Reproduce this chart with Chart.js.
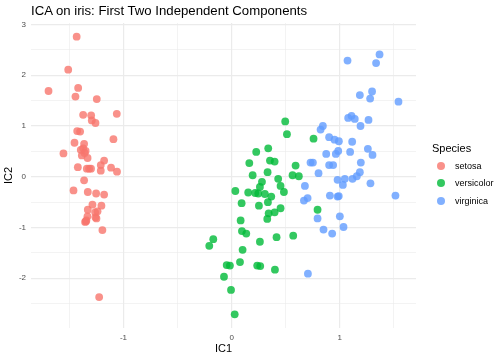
<!DOCTYPE html>
<html lang="en">
<head>
  <meta charset="UTF-8">
  <title>ICA on iris</title>
  <script src="https://cdn.jsdelivr.net/npm/chart.js"></script>
  <style>
    body {
      margin: 0;
      background: #fff;
      font-family: "Liberation Sans", Arial, sans-serif;
    }
    #wrap { position: relative; width: 504px; height: 360px; }
    #title {
      position: absolute; left: 31px; top: 4px;
      font-size: 13.2px; line-height: 13px; color: #000; white-space: nowrap;
    }
    #legendTitle {
      position: absolute; left: 432px; top: 143px;
      font-size: 11px; line-height: 11px; color: #000;
    }
    .item {
      position: absolute; left: 437px; height: 17px;
      display: flex; align-items: center;
      font-size: 9px; color: #000;
    }
    .dot { width: 8px; height: 8px; border-radius: 50%; margin-right: 10px; }
  </style>
</head>
<body>
  <div id="wrap">
    <canvas id="icaChart" width="504" height="360"></canvas>
    <div id="title">ICA on iris: First Two Independent Components</div>
    <div id="legendTitle">Species</div>
    <div id="legend"></div>
  </div>

  <script>
    const species = ['setosa', 'versicolor', 'virginica'];
    const colours = ['rgba(248,118,109,0.8)', 'rgba(0,186,56,0.8)', 'rgba(97,156,255,0.8)'];

    const setosaX = [-1.433, -1.511, -1.693, -1.419, -1.444, -1.247, -1.373, -1.299, -1.062, -1.293,
      -1.259, -1.428, -1.401, -1.093, -1.453, -1.364, -1.555, -1.373, -1.350, -1.385,
      -1.332, -1.179, -1.210, -1.210, -1.422, -1.339, -1.318, -1.115, -1.060, -1.364,
      -1.462, -1.330, -1.253, -1.179, -1.287, -1.204, -1.330, -1.262, -1.333, -1.259,
      -1.355, -1.343, -1.250, -1.195, -1.225, -1.360, -1.395, -1.240, -1.300, -1.348];
    const setosaY = [2.76, 2.11, 1.69, 1.75, 1.58, 1.53, 1.22, 1.21, 1.24, 1.11,
      1.06, 0.90, 0.89, 0.74, 0.67, 0.65, 0.46, 0.56, 0.51, 0.42,
      0.37, 0.32, 0.23, 0.12, 0.19, 0.16, 0.16, 0.18, 0.10, -0.07,
      -0.27, -0.30, -0.33, -0.35, -0.55, -0.57, -0.65, -0.70, -0.78, -0.80,
      -0.89, -0.86, -0.82, -1.05, -2.37, 0.47, 0.53, -0.68, 0.16, -0.88];

    const versicolorX = [0.495, 0.511, 0.757, 0.338, 0.227, 0.163, 0.354, 0.397, 0.591, 0.194,
      0.332, 0.563, 0.621, 0.430, 0.280, 0.452, 0.261, 0.034, 0.153, 0.218,
      0.246, 0.307, 0.483, 0.366, 0.335, 0.092, 0.252, 0.452, 0.342, 0.397,
      0.329, 0.083, 0.794, 0.095, 0.135, 0.415, 0.569, 0.261, -0.170, -0.207,
      0.101, 0.077, -0.046, -0.016, 0.236, 0.264, 0.400, -0.071, -0.006, 0.028];
    const versicolorY = [1.09, 0.84, 0.75, 0.56, 0.49, 0.27, 0.32, 0.30, 0.22, 0.03,
      0.09, 0.03, 0.01, -0.04, -0.10, -0.18, -0.20, -0.28, -0.31, -0.32,
      -0.33, -0.34, -0.30, -0.39, -0.50, -0.52, -0.57, -0.62, -0.72, -0.70,
      -0.83, -0.86, -0.65, -1.07, -1.12, -1.19, -1.16, -1.28, -1.23, -1.36,
      -1.44, -1.68, -1.74, -1.75, -1.75, -1.76, -1.83, -1.97, -2.23, -2.71];

    const virginicaX = [1.367, 1.071, 1.335, 1.298, 1.185, 1.280, 1.542, 1.108, 1.077, 1.138,
      1.265, 1.191, 0.843, 0.822, 0.901, 0.951, 0.991, 1.114, 1.259, 1.302,
      0.874, 0.963, 0.985, 1.095, 1.194, 0.729, 0.751, 0.901, 0.938, 0.803,
      1.185, 1.157, 1.117, 1.046, 0.979, 1.028, 1.283, 0.677, 1.514, 0.908,
      0.979, 0.990, 0.702, 0.668, 0.794, 1.000, 1.034, 0.849, 0.929, 0.705];
    const virginicaY = [2.41, 2.29, 2.24, 1.68, 1.61, 1.54, 1.48, 1.20, 1.16, 1.14,
      1.12, 1.00, 1.00, 0.93, 0.78, 0.73, 0.70, 0.69, 0.55, 0.43,
      0.45, 0.45, 0.51, 0.49, 0.28, 0.28, 0.28, 0.23, 0.23, 0.07,
      0.09, 0.01, -0.04, -0.04, -0.06, -0.16, -0.13, -0.18, -0.37, -0.37,
      -0.39, -0.38, -0.42, -0.47, -0.82, -0.78, -0.99, -1.04, -1.12, -1.91];

    const xTicks = [-1.5, -1, -0.5, 0, 0.5, 1, 1.5];
    const yTicks = [-2.5, -2, -1.5, -1, -0.5, 0, 0.5, 1, 1.5, 2, 2.5, 3];

    const xs = [setosaX, versicolorX, virginicaX];
    const ys = [setosaY, versicolorY, virginicaY];

    const isMajor = v => Number.isInteger(v);
    const gridColour = '#ebebeb';

    const datasets = species.map((s, i) => ({
      label: s,
      data: xs[i].map((x, j) => ({ x: x, y: ys[i][j] })),
      backgroundColor: colours[i],
      pointRadius: 3.9,
      pointHoverRadius: 3.9,
      pointBorderWidth: 0
    }));

    const axis = (ticks, title) => ({
      type: 'linear',
      afterBuildTicks: s => { s.ticks = ticks.map(v => ({ value: v })); },
      border: { display: false },
      grid: {
        drawTicks: false,
        color: gridColour,
        lineWidth: ctx => (ctx.tick && isMajor(ctx.tick.value)) ? 1.2 : 0.6
      },
      ticks: {
        color: '#4d4d4d',
        font: { size: 8 },
        autoSkip: false,
        maxRotation: 0,
        padding: 5,
        callback: v => isMajor(v) ? String(v) : ''
      },
      title: { display: true, text: title, color: '#000', font: { size: 11 } }
    });

    const xAxis = axis(xTicks, 'IC1');
    xAxis.min = -1.855;
    xAxis.max = 1.704;
    xAxis.afterFit = s => { s.height = 32; };
    xAxis.title.padding = { top: 0, bottom: 4 };

    const yAxis = axis(yTicks, 'IC2');
    yAxis.min = -2.98;
    yAxis.max = 3.03;
    yAxis.afterFit = s => { s.width = 31; };
    yAxis.title.padding = { top: 2, bottom: 0 };

    Chart.defaults.font.family = '"Liberation Sans", Arial, sans-serif';

    new Chart(document.getElementById('icaChart').getContext('2d'), {
      type: 'scatter',
      data: { datasets: datasets },
      options: {
        responsive: false,
        animation: false,
        layout: { padding: { top: 23, right: 88, left: 0, bottom: 0 } },
        plugins: { legend: { display: false }, tooltip: { enabled: false } },
        scales: { x: xAxis, y: yAxis }
      }
    });

    // legend keys
    const legend = document.getElementById('legend');
    species.forEach((s, i) => {
      const row = document.createElement('div');
      row.className = 'item';
      row.style.top = (157.5 + i * 17.4) + 'px';
      row.innerHTML = `<span class="dot" style="background:${colours[i]}"></span>${s}`;
      legend.appendChild(row);
    });
  </script>
</body>
</html>
